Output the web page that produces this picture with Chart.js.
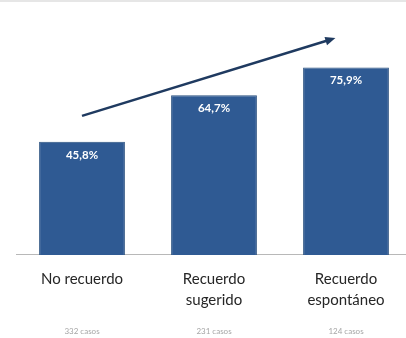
<!DOCTYPE html>
<html>
<head>
<meta charset="utf-8">
<script src="https://cdn.jsdelivr.net/npm/chart.js@4.4.1/dist/chart.umd.min.js"></script>
<style>
  html, body { margin: 0; padding: 0; background: #fff; overflow: hidden; }
  #wrap { position: relative; width: 412px; height: 338px; }
  #topline { position: absolute; left: 0; top: 0; width: 406px; height: 2px; background: #e6e6e6; }
</style>
</head>
<body>
<div id="wrap"><canvas id="chart"></canvas><div id="topline"></div></div>
<script>
// data
const categories = [["No recuerdo"], ["Recuerdo", "sugerido"], ["Recuerdo", "espontáneo"]];
const values = [45.8, 64.7, 75.9];
const valueLabels = ["45,8%", "64,7%", "75,9%"];
const counts = ["332 casos", "231 casos", "124 casos"];
// trend arrow: [category position, value]
const arrowFrom = [0, 56.3];
const arrowTo = [1.92, 87.8];

const barColor = "#2F5A93";
const arrowColor = "#1F3A60";

// value labels inside the top of each bar
const barLabels = {
  id: 'barLabels',
  afterDatasetsDraw(chart) {
    const ctx = chart.ctx;
    const meta = chart.getDatasetMeta(0);
    ctx.save();
    ctx.fillStyle = "#ffffff";
    ctx.font = "bold 11.5px Lato, 'Open Sans', sans-serif";
    ctx.textAlign = "center";
    ctx.textBaseline = "middle";
    meta.data.forEach(function(bar, i) {
      ctx.fillText(valueLabels[i], bar.x, bar.y + 13);
    });
    ctx.restore();
  }
};

// trend arrow over the bars
const trendArrow = {
  id: 'trendArrow',
  afterDatasetsDraw(chart) {
    const xs = chart.scales.x;
    const ys = chart.scales.y;
    const step = xs.getPixelForValue(1) - xs.getPixelForValue(0);
    const x0 = xs.getPixelForValue(0) + step * arrowFrom[0];
    const x1 = xs.getPixelForValue(0) + step * arrowTo[0];
    const y0 = ys.getPixelForValue(arrowFrom[1]);
    const y1 = ys.getPixelForValue(arrowTo[1]);
    const ang = Math.atan2(y1 - y0, x1 - x0);
    const head = 11;
    const ctx = chart.ctx;
    ctx.save();
    ctx.strokeStyle = arrowColor;
    ctx.fillStyle = arrowColor;
    ctx.lineWidth = 2.5;
    ctx.beginPath();
    ctx.moveTo(x0, y0);
    ctx.lineTo(x1 - Math.cos(ang) * head * 0.6, y1 - Math.sin(ang) * head * 0.6);
    ctx.stroke();
    ctx.beginPath();
    ctx.moveTo(x1, y1);
    ctx.lineTo(x1 - head * Math.cos(ang - 0.4), y1 - head * Math.sin(ang - 0.4));
    ctx.lineTo(x1 - head * Math.cos(ang + 0.4), y1 - head * Math.sin(ang + 0.4));
    ctx.closePath();
    ctx.fill();
    ctx.restore();
  }
};

const chart = new Chart(document.getElementById('chart').getContext('2d'), {
  type: 'bar',
  data: {
    labels: categories,
    datasets: [{
      data: values,
      backgroundColor: barColor,
      borderColor: "#29507f",
      borderWidth: 1,
      borderSkipped: 'bottom',
      barPercentage: 0.65,
      categoryPercentage: 1.0,
      xAxisID: 'x'
    }]
  },
  options: {
    responsive: true,
    maintainAspectRatio: false,
    animation: false,
    layout: { padding: { top: 8, left: 16, right: 0, bottom: 0 } },
    scales: {
      x: {
        position: 'bottom',
        grid: { display: false, drawTicks: false },
        border: { display: true, color: "#b8b8b8", width: 1 },
        ticks: {
          padding: 13,
          color: "#262626",
          font: { family: "Lato, 'Open Sans', sans-serif", size: 15, lineHeight: 1.45 },
          maxRotation: 0,
          autoSkip: false
        }
      },
      x2: {
        type: 'category',
        labels: counts,
        position: 'bottom',
        grid: { display: false, drawTicks: false },
        border: { display: false },
        ticks: {
          padding: 2,
          color: "#a6a6a6",
          font: { family: "Lato, 'Open Sans', sans-serif", size: 8 },
          maxRotation: 0,
          autoSkip: false
        }
      },
      y: {
        display: false,
        min: 0,
        max: 100
      }
    },
    plugins: {
      legend: { display: false },
      tooltip: { enabled: false }
    }
  },
  plugins: [barLabels, trendArrow]
});
</script>
</body>
</html>
